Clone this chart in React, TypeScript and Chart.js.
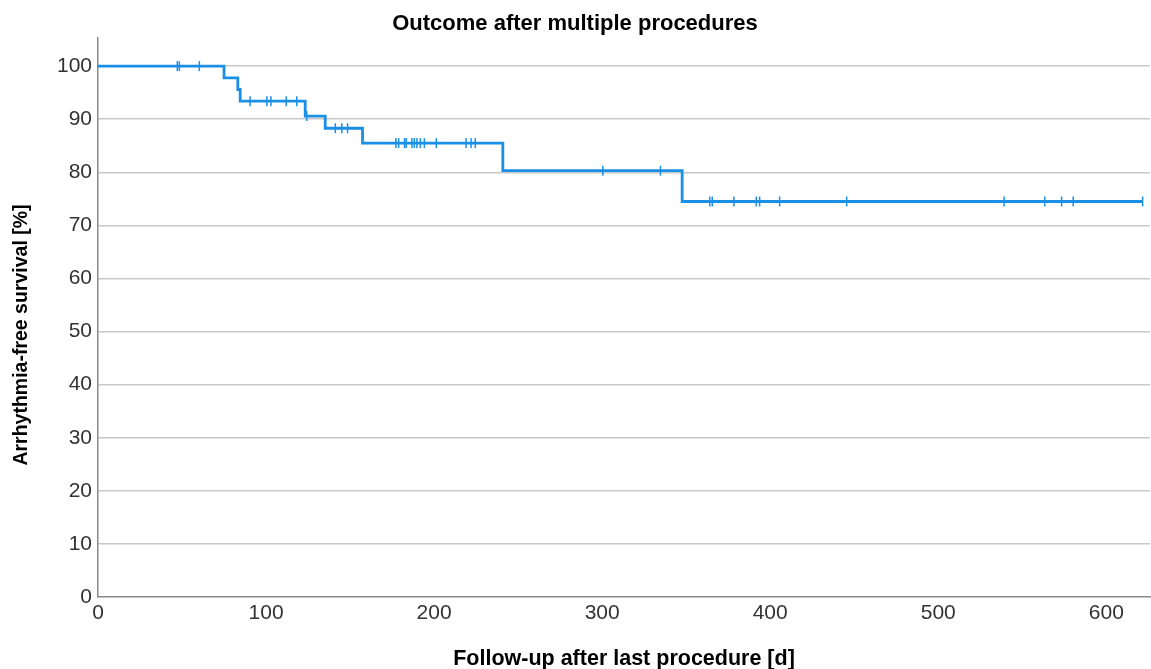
import React, { useEffect, useRef } from "react";
import { Chart, registerables } from "chart.js";

Chart.register(...registerables);

const chartTitle = "Outcome after multiple procedures";
const xTitle = "Follow-up after last procedure [d]";
const yTitle = "Arrhythmia-free survival [%]";

// Kaplan-Meier step points (day, survival %)
const eventDays = [0, 75, 83.2, 84.6, 123.3, 135.2, 157.4, 240.9, 347.6, 621.6];
const survivalPct = [100, 97.8, 95.6, 93.4, 90.6, 88.3, 85.5, 80.3, 74.5, 74.5];

// Censored observations (days)
const censorDays = [
  47.2, 48.4, 60.3,
  90.5, 100.5, 102.9, 112, 118.3,
  124.2,
  141.2, 145.1, 148.5,
  177.3, 178.9, 182.4, 183.4, 186.8, 188.2, 189.8, 191.8, 194.2, 201.3, 219, 222, 224.5,
  300.4, 334.7,
  364, 365.5, 378.4, 391.7, 393.7, 405.6, 445.5, 539.2, 563.4, 573.4, 580.3, 621.6,
];

const yTicks = [0, 10, 20, 30, 40, 50, 60, 70, 80, 90, 100];
const xTicks = [0, 100, 200, 300, 400, 500, 600];

const FONT = "'Liberation Sans', Arial, sans-serif";
const BLUE = "#1a8fe6";

function levelAt(t: number): number {
  let v = survivalPct[0];
  for (let i = 0; i < eventDays.length; i++) {
    if (eventDays[i] <= t) v = survivalPct[i];
  }
  return v;
}

const titlesPlugin = {
  id: "axisTitles",
  afterDraw(chart: any) {
    const ctx = chart.ctx;
    const area = chart.chartArea;
    ctx.save();
    ctx.fillStyle = "#000";
    ctx.textAlign = "center";
    ctx.textBaseline = "middle";
    ctx.font = `bold 21.5px ${FONT}`;
    ctx.fillText(xTitle, (area.left + area.right) / 2, 659);
    ctx.translate(22, 335);
    ctx.rotate(-Math.PI / 2);
    ctx.font = `bold 19.5px ${FONT}`;
    ctx.fillText(yTitle, 0, 0);
    ctx.restore();
  },
};

export default function App() {
  const ref = useRef<HTMLCanvasElement | null>(null);

  useEffect(() => {
    if (!ref.current) return;
    const lineData = eventDays.map((d, i) => ({ x: d, y: survivalPct[i] }));
    const censorData = censorDays.map((d) => ({ x: d, y: levelAt(d) }));

    const chart = new Chart(ref.current, {
      type: "scatter",
      data: {
        datasets: [
          {
            label: "Survival",
            data: lineData,
            showLine: true,
            stepped: "before",
            borderColor: BLUE,
            borderWidth: 2.8,
            pointRadius: 0,
            fill: false,
          } as any,
          {
            label: "Censored",
            data: censorData,
            showLine: false,
            pointStyle: "line",
            rotation: 90,
            pointRadius: 5,
            pointHoverRadius: 5,
            borderColor: BLUE,
            backgroundColor: BLUE,
            pointBorderWidth: 1.5,
          } as any,
        ],
      },
      options: {
        responsive: false,
        animation: false,
        layout: { autoPadding: false, padding: { left: 0, right: 1, top: 0, bottom: 0 } },
        plugins: {
          legend: { display: false },
          tooltip: { enabled: false },
          title: {
            display: true,
            text: chartTitle,
            color: "#000",
            font: { family: FONT, size: 22, weight: "bold" },
            padding: { top: 11, bottom: 0.6 },
          },
        },
        scales: {
          x: {
            type: "linear",
            min: 0,
            max: 626,
            afterBuildTicks: (scale: any) => {
              scale.ticks = xTicks.map((v) => ({ value: v }));
            },
            afterFit: (scale: any) => {
              scale.height = 72;
              scale.paddingLeft = 0;
              scale.paddingRight = 0;
            },
            ticks: {
              color: "#333",
              font: { family: FONT, size: 21 },
              padding: 4,
              maxRotation: 0,
            },
            grid: { display: false, drawTicks: false },
            border: { display: true, color: "#8a8a8a", width: 1.5 },
          },
          y: {
            type: "linear",
            min: 0,
            max: 105.3,
            afterBuildTicks: (scale: any) => {
              scale.ticks = yTicks.map((v) => ({ value: v }));
            },
            afterFit: (scale: any) => {
              scale.width = 98;
              scale.paddingTop = 0;
              scale.paddingBottom = 0;
            },
            ticks: {
              color: "#333",
              font: { family: FONT, size: 21 },
              padding: 6,
            },
            grid: {
              drawTicks: false,
              color: (c: any) => (c.tick && c.tick.value === 0 ? "rgba(0,0,0,0)" : "#c8c8c8"),
              lineWidth: 1.5,
            },
            border: { display: true, color: "#8a8a8a", width: 1.5 },
          },
        },
      },
      plugins: [titlesPlugin],
    });
    return () => chart.destroy();
  }, []);

  return (
    <div style={{ position: "absolute", left: 0, top: 0, width: 1151, height: 669, background: "#fff" }}>
      <canvas ref={ref} width={1151} height={669} style={{ display: "block", width: 1151, height: 669 }} />
    </div>
  );
}
